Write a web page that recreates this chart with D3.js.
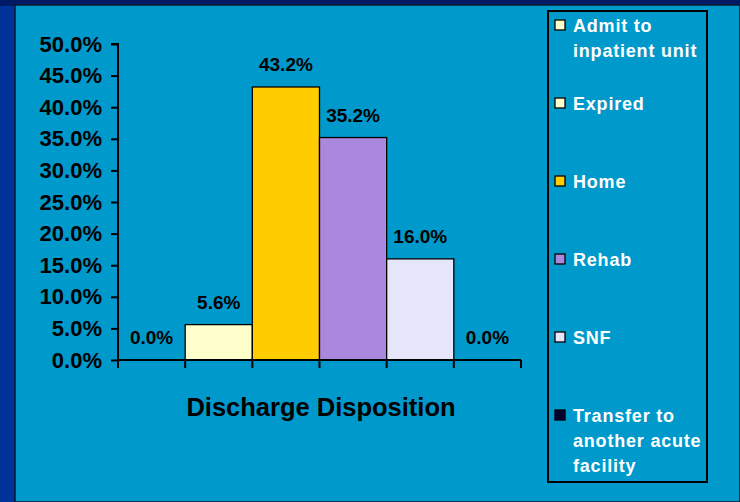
<!DOCTYPE html>
<html>
<head>
<meta charset="utf-8">
<script src="https://cdn.jsdelivr.net/npm/d3@7"></script>
<style>
  body { margin: 0; background: #003399; }
  svg { display: block; font-family: "Liberation Sans", Arial, sans-serif; font-weight: bold; }
</style>
</head>
<body>
<svg id="chart"></svg>
<script>
const categories = ['Admit to inpatient unit', 'Expired', 'Home', 'Rehab', 'SNF', 'Transfer to another acute facility'];
const values = [0.0, 0.056, 0.432, 0.352, 0.16, 0.0];
const colors = ['#FFFFCC', '#FFFFCC', '#FFCC00', '#AA88DD', '#E6E6FA', '#000033'];
const legendLines = [['Admit to', 'inpatient unit'], ['Expired'], ['Home'], ['Rehab'], ['SNF'], ['Transfer to', 'another acute', 'facility']];
const yTicks = [0, 0.05, 0.1, 0.15, 0.2, 0.25, 0.3, 0.35, 0.4, 0.45, 0.5];

const width = 740, height = 502;
const svg = d3.select('#chart').attr('width', width).attr('height', height);

// background: navy frame + teal panel
svg.append('rect').attr('width', width).attr('height', height).attr('fill', '#003399');
svg.append('rect').attr('width', width).attr('height', 6).attr('fill', '#001a66');
svg.append('rect').attr('x', 15).attr('y', 5).attr('width', width - 15).attr('height', height - 5)
  .attr('fill', '#0099CC').attr('stroke', '#0a1a30').attr('stroke-width', 1.5);

const x = d3.scaleBand().domain(categories).range([118, 521]).padding(0);
const y = d3.scaleLinear().domain([0, 0.5]).range([360, 44]);

// bars
svg.selectAll('rect.bar')
  .data(categories)
  .enter()
  .append('rect')
  .attr('class', 'bar')
  .attr('x', d => x(d))
  .attr('y', (d, i) => y(values[i]))
  .attr('width', x.bandwidth())
  .attr('height', (d, i) => y(0) - y(values[i]))
  .attr('fill', (d, i) => colors[i])
  .attr('stroke', '#000')
  .attr('stroke-width', 1.3)
  .style('display', (d, i) => values[i] > 0 ? null : 'none');

// value labels
svg.selectAll('text.val')
  .data(categories)
  .enter()
  .append('text')
  .attr('class', 'val')
  .attr('x', d => x(d) + x.bandwidth() / 2)
  .attr('y', (d, i) => y(values[i]) - 16)
  .attr('text-anchor', 'middle')
  .style('font-size', '19px')
  .attr('fill', '#000')
  .text((d, i) => (values[i] * 100).toFixed(1) + '%');

// y axis
const yAxis = d3.axisLeft(y).tickValues(yTicks).tickFormat(d => (d * 100).toFixed(1) + '%').tickSize(7).tickPadding(9);
const gy = svg.append('g').attr('transform', 'translate(118,0)').call(yAxis);
gy.select('.domain').attr('stroke', '#000').attr('stroke-width', 2).attr('d', 'M-7,44H0V360');
gy.selectAll('.tick line').attr('stroke', '#000').attr('stroke-width', 2);
gy.selectAll('.tick text').attr('fill', '#000').style('font-size', '22px').style('font-family', '"Liberation Sans", Arial, sans-serif').style('font-weight', 'bold');

// x axis: ticks on band edges
const edges = categories.map(d => x(d)).concat([x.range()[1]]);
svg.append('line').attr('x1', 118).attr('x2', 521).attr('y1', 360).attr('y2', 360).attr('stroke', '#000').attr('stroke-width', 2);
svg.selectAll('line.xt')
  .data(edges)
  .enter()
  .append('line')
  .attr('class', 'xt')
  .attr('x1', d => d).attr('x2', d => d)
  .attr('y1', 360).attr('y2', 368)
  .attr('stroke', '#000').attr('stroke-width', 2);

svg.append('text')
  .attr('x', 321).attr('y', 416)
  .attr('text-anchor', 'middle')
  .style('font-size', '25.5px')
  .attr('fill', '#000')
  .text('Discharge Disposition');

// legend
svg.append('rect').attr('x', 548).attr('y', 11).attr('width', 159).attr('height', 471)
  .attr('fill', 'none').attr('stroke', '#000').attr('stroke-width', 2);

const leg = svg.selectAll('g.leg')
  .data(categories)
  .enter()
  .append('g')
  .attr('class', 'leg')
  .attr('transform', (d, i) => `translate(555,${25 + i * 78})`);

leg.append('rect')
  .attr('x', 0).attr('y', -5).attr('width', 10).attr('height', 10)
  .attr('fill', (d, i) => colors[i]).attr('stroke', '#000').attr('stroke-width', 1.3);

leg.each(function(d, i) {
  const t = d3.select(this).append('text')
    .attr('x', 18).attr('y', 7)
    .attr('fill', '#fff')
    .style('font-size', '18px')
    .style('letter-spacing', '0.8px');
  legendLines[i].forEach((line, j) => {
    t.append('tspan').attr('x', 18).attr('dy', j === 0 ? 0 : 25).text(line);
  });
});
</script>
</body>
</html>
